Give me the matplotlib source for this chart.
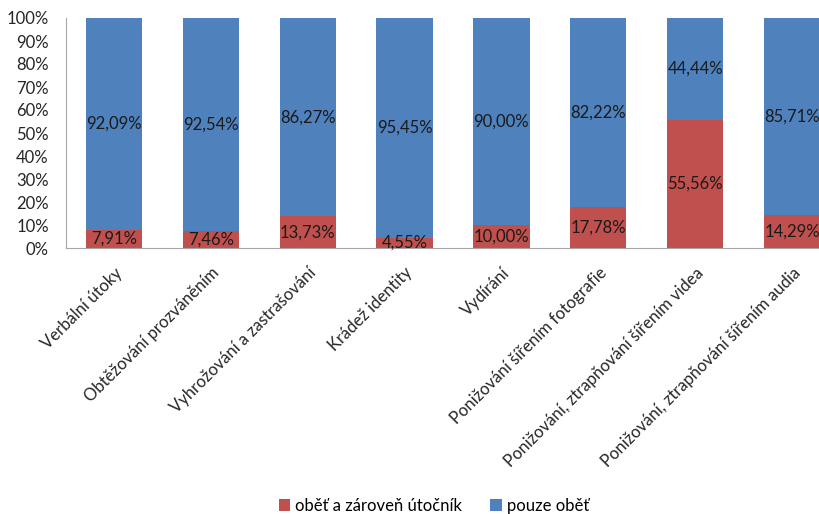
import matplotlib.pyplot as plt
import numpy as np

categories = ['Verbální útoky', 'Obtěžování prozváněním', 'Vyhrožování a zastrašování',
              'Krádež identity', 'Vydírání', 'Ponižování šířením fotografie',
              'Ponižování, ztrapňování šířením videa', 'Ponižování, ztrapňování šířením audia']
both = [7.91, 7.46, 13.73, 4.55, 10.00, 17.78, 55.56, 14.29]
victim_only = [92.09, 92.54, 86.27, 95.45, 90.00, 82.22, 44.44, 85.71]
series_names = ['oběť a zároveň útočník', 'pouze oběť']

red = '#C0504D'
blue = '#4F81BD'
fs = 12
plt.rcParams['font.family'] = ['Lato', 'DejaVu Sans']

fig = plt.figure(figsize=(8.19, 5.14), dpi=100)
# plot area runs off the right edge, as in the original export
ax = fig.add_axes([65.5 / 819, 1 - 248 / 514, 775 / 819, 230 / 514])

x = np.arange(len(categories))
w = 0.58
b1 = ax.bar(x, both, w, color=red, label=series_names[0])
b2 = ax.bar(x, victim_only, w, bottom=both, color=blue, label=series_names[1])

def fmt(v):
    return f'{v:.2f}'.replace('.', ',') + '%'

for xi, a, b in zip(x, both, victim_only):
    ax.text(xi, a / 2, fmt(a), ha='center', va='center', fontsize=fs, color='#1a1a1a')
    ax.text(xi, a + b / 2, fmt(b), ha='center', va='center', fontsize=fs, color='#1a1a1a')

ax.set_xlim(-0.5, len(categories) - 0.5)
ax.set_ylim(0, 100)
ax.set_yticks(np.arange(0, 101, 10))
ax.set_yticklabels([f'{v}%' for v in range(0, 101, 10)], fontsize=fs, color='#262626')
ax.set_xticks(x)
ax.set_xticklabels(categories, rotation=45, ha='right', va='top',
                   rotation_mode='anchor', fontsize=fs, color='#262626')
ax.tick_params(axis='y', length=0, pad=12)
ax.tick_params(axis='x', length=0, pad=12)
for s in ['top', 'right']:
    ax.spines[s].set_visible(False)
for s in ['left', 'bottom']:
    ax.spines[s].set_color('#a6a6a6')

fig.legend(handles=[b1, b2], loc='center', bbox_to_anchor=(434 / 819, 1 - 506 / 514),
           ncol=2, frameon=False, fontsize=fs, handlelength=0.7, handleheight=0.7,
           columnspacing=1.7, handletextpad=0.3)

fig.savefig('out.png', dpi=100)
